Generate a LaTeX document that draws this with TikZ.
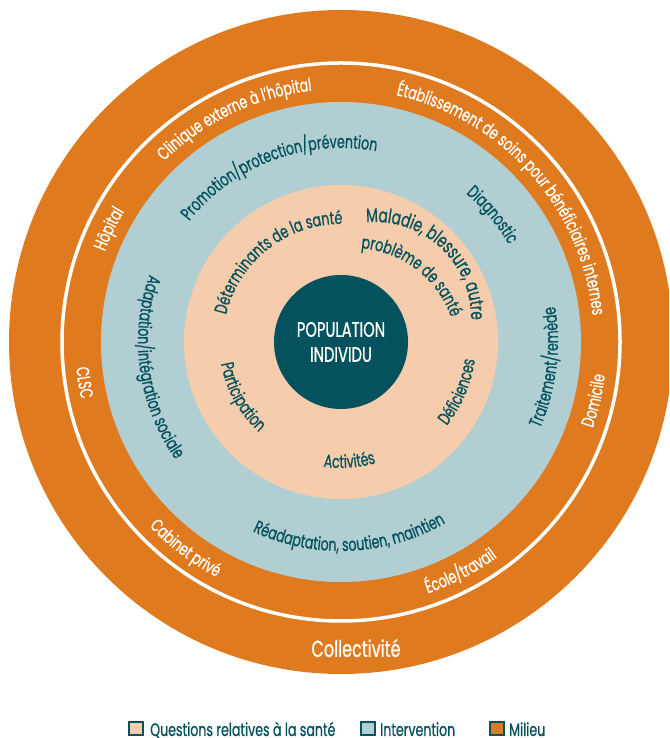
\documentclass[tikz,border=0pt]{standalone}
\usepackage{fontspec}
\setmainfont{Poppins}[FakeStretch=0.7,FakeBold=0.8]
\usetikzlibrary{decorations.text,calc}
\definecolor{orng}{HTML}{DF7A1E}
\definecolor{blu}{HTML}{B1CFD3}
\definecolor{pch}{HTML}{F5CDAC}
\definecolor{dteal}{HTML}{04525E}
\newcommand\lblfont{\fontsize{18}{18}\selectfont}
\newcommand\lblbig{\fontsize{19.5}{19.5}\selectfont}
% clockwise (top) text: radius, centre angle, half span, colour, text
\newcommand\ttop[5]{%
  \path[decorate,decoration={text along path,text align=center,text color=#4,
    text={|\lblfont|#5}}]
    ($(C)+({#2+#3}:#1)$) arc[start angle={#2+#3},end angle={#2-#3},radius=#1];}
% counter-clockwise (bottom) text
\newcommand\tbot[5]{%
  \path[decorate,decoration={text along path,text align=center,text color=#4,
    text={|\lblfont|#5}}]
    ($(C)+({#2-#3}:#1)$) arc[start angle={#2-#3},end angle={#2+#3},radius=#1];}
\begin{document}
\begin{tikzpicture}[x=1pt,y=1pt,
  legbox/.style={draw=dteal,line width=1.8pt,minimum width=14pt,minimum height=13pt,inner sep=0pt},
  legtxt/.style={text=dteal,font=\fontsize{18}{18}\selectfont,anchor=base west,inner sep=0pt}]
\useasboundingbox (0,0) rectangle (669,738);
\clip (0,0) rectangle (669,738);
\coordinate (C) at (341,396);
\coordinate (M1) at (375,420);
\coordinate (M2) at (353,386);
\fill[orng] (C) circle[radius=332];
\draw[white,line width=3.5pt] (C) circle[radius=279];
\fill[blu] (C) circle[radius=240];
\fill[pch] (C) circle[radius=157];
\node[circle,fill=dteal,minimum size=134pt,inner sep=0pt,text=white,align=center,
  font=\fontsize{21}{25}\selectfont] (pop) at (C) {POPULATION\\INDIVIDU};

% orange band
\ttop{253}{115.5}{40}{white}{Clinique externe à l’hôpital}
\ttop{253}{41.7}{55}{white}{Établissement de soins pour bénéficiaires internes}
\ttop{253}{154}{15}{white}{Hôpital}
\tbot{266}{189}{15}{white}{CLSC}
\tbot{266}{233}{25}{white}{Cabinet privé}
\tbot{266}{297.5}{25}{white}{École/travail}
\tbot{266}{-13}{20}{white}{Domicile}
\node[text=white,font=\fontsize{23}{23}\selectfont] (coll) at (356,90) {Collectivité};

% blue band
\ttop{194}{110.5}{45}{dteal}{Promotion/protection/prévention}
\ttop{194}{40}{20}{dteal}{Diagnostic}
\tbot{203}{188}{45}{dteal}{Adaptation/intégration sociale}
\tbot{217}{-7}{35}{dteal}{Traitement/remède}
\tbot{209}{272.5}{45}{dteal}{Réadaptation, soutien, maintien}

% peach band
\ttop{118}{128}{55}{dteal}{Déterminants de la santé}
\path[decorate,decoration={text along path,text align=center,text color=dteal,
    text={|\lblbig|Maladie, blessure, autre}}]
    ($(M1)+(102:96)$) arc[start angle=102,end angle=-8,radius=96];
\path[decorate,decoration={text along path,text align=center,text color=dteal,
    text={|\lblfont|problème de santé}}]
    ($(M2)+(102.5:104)$) arc[start angle=102.5,end angle=2.5,radius=104];
\tbot{122}{209}{40}{dteal}{Participation}
\tbot{135}{-23}{30}{dteal}{Déficiences}
\tbot{126}{274}{25}{dteal}{Activités}

% legend
\node[legbox,fill=pch,anchor=south west] (b1) at (128,2) {};
\node[legtxt] (l1) at (150,2) {Questions relatives à la santé};
\node[legbox,fill=blu,anchor=south west] (b2) at (360,2) {};
\node[legtxt] (l2) at (380,2) {Intervention};
\node[legbox,fill=orng,anchor=south west] (b3) at (489,2) {};
\node[legtxt] (l3) at (509,2) {Milieu};
\end{tikzpicture}
\end{document}
